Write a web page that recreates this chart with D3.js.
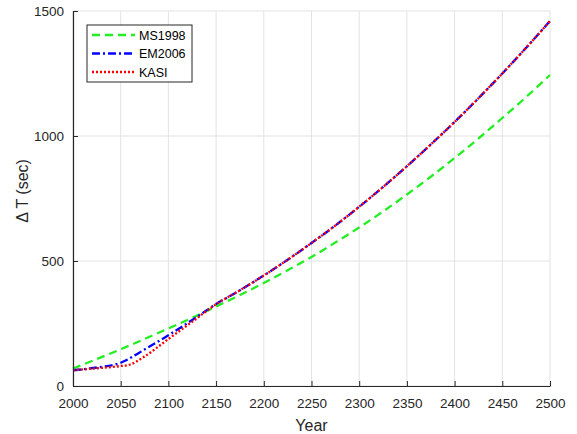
<!DOCTYPE html>
<html>
<head>
<meta charset="utf-8">
<script src="https://cdn.jsdelivr.net/npm/d3@7"></script>
<style>
  body { margin: 0; background: #fff; }
  svg { display: block; font-family: "Liberation Sans", Arial, sans-serif; }
</style>
</head>
<body>
<div id="wrapper"></div>
<script>
// values
const years = [2000, 2025, 2050, 2075, 2100, 2125, 2150, 2175, 2200, 2225, 2250,
               2275, 2300, 2325, 2350, 2375, 2400, 2425, 2450, 2475, 2500];
const ms1998 = [70, 108, 147, 188, 230, 273, 318, 364, 412, 463, 516,
                574, 634, 698, 766, 837, 912, 990, 1072, 1156, 1244];
const em2006 = [63, 74, 93, 146, 203, 264, 328, 383, 442, 505, 572,
                642, 717, 796, 879, 966, 1056, 1151, 1250, 1353, 1460];
const kasiYears = [2000, 2025, 2050, 2060, 2075, 2100, 2125, 2150, 2175, 2200, 2225, 2250,
                   2275, 2300, 2325, 2350, 2375, 2400, 2425, 2450, 2475, 2500];
const kasi = [63, 71, 80, 86, 118, 188, 257, 327, 383, 442, 505, 572,
              642, 717, 796, 879, 966, 1056, 1151, 1250, 1353, 1460];
const xTicks = [2000, 2050, 2100, 2150, 2200, 2250, 2300, 2350, 2400, 2450, 2500];
const yTicks = [0, 500, 1000, 1500];

const series = [
    {name: "MS1998", xs: years, ys: ms1998, color: "#22ee22", dash: "8,5"},
    {name: "EM2006", xs: years, ys: em2006, color: "#0000ff", dash: "8,3,2,3"},
    {name: "KASI", xs: kasiYears, ys: kasi, color: "#ff0000", dash: "2,2"}
];

const dimension = {
    width: 577,
    height: 434,
    margin: {top: 11, left: 73, bottom: 48, right: 27}
};
dimension.boundedWidth = dimension.width - dimension.margin.left - dimension.margin.right;
dimension.boundedHeight = dimension.height - dimension.margin.top - dimension.margin.bottom;

const svg = d3.select("#wrapper").append("svg")
    .attr("width", dimension.width)
    .attr("height", dimension.height);

const bounded = svg.append("g")
    .attr("transform", `translate(${dimension.margin.left},${dimension.margin.top})`);

const xScaler = d3.scaleLinear().domain([2000, 2500]).range([0, dimension.boundedWidth]);
const yScaler = d3.scaleLinear().domain([0, 1500]).range([dimension.boundedHeight, 0]);

// grid
bounded.append("g").selectAll("line").data(xTicks).join("line")
    .attr("x1", d => xScaler(d)).attr("x2", d => xScaler(d))
    .attr("y1", 0).attr("y2", dimension.boundedHeight)
    .attr("stroke", "#e3e3e3").attr("stroke-width", 1);
bounded.append("g").selectAll("line").data(yTicks).join("line")
    .attr("x1", 0).attr("x2", dimension.boundedWidth)
    .attr("y1", d => yScaler(d)).attr("y2", d => yScaler(d))
    .attr("stroke", "#e3e3e3").attr("stroke-width", 1);

// lines
series.forEach(s => {
    const pts = s.xs.map((x, i) => [x, s.ys[i]]);
    const lineGenerator = d3.line()
        .x(d => xScaler(d[0]))
        .y(d => yScaler(d[1]))
        .curve(d3.curveMonotoneX);
    bounded.append("path")
        .attr("d", lineGenerator(pts))
        .attr("fill", "none")
        .attr("stroke", s.color)
        .attr("stroke-width", 2.3)
        .attr("stroke-dasharray", s.dash);
});

// axes
const xAxis = d3.axisBottom(xScaler).tickValues(xTicks).tickFormat(d3.format("d"))
    .tickSizeInner(-5).tickSizeOuter(0).tickPadding(12);
const yAxis = d3.axisLeft(yScaler).tickValues(yTicks).tickFormat(d3.format("d"))
    .tickSizeInner(-5).tickSizeOuter(0).tickPadding(9);

const gx = bounded.append("g")
    .attr("transform", `translate(0,${dimension.boundedHeight})`)
    .call(xAxis);
const gy = bounded.append("g").call(yAxis);

[gx, gy].forEach(g => {
    g.select(".domain").attr("stroke", "#262626").attr("stroke-width", 1.2);
    g.selectAll(".tick line").attr("stroke", "#262626");
    g.selectAll(".tick text").attr("fill", "#262626")
        .style("font-size", "13.5px")
        .style("font-family", "'Liberation Sans', Arial, sans-serif");
});

svg.append("text")
    .attr("x", dimension.margin.left + dimension.boundedWidth / 2)
    .attr("y", 431)
    .attr("text-anchor", "middle")
    .attr("fill", "#262626")
    .style("font-size", "16px")
    .text("Year");

svg.append("text")
    .attr("transform", "translate(28,191) rotate(-90)")
    .attr("text-anchor", "middle")
    .attr("fill", "#262626")
    .style("font-size", "16px")
    .text("Δ T (sec)");

// legend
const legend = svg.append("g").attr("transform", "translate(87,25)");
legend.append("rect")
    .attr("width", 105).attr("height", 57)
    .attr("fill", "#fff").attr("stroke", "#262626").attr("stroke-width", 1);
series.forEach((s, i) => {
    const y = 10 + i * 18.5;
    legend.append("line")
        .attr("x1", 5).attr("x2", 48).attr("y1", y).attr("y2", y)
        .attr("stroke", s.color).attr("stroke-width", 2.3)
        .attr("stroke-dasharray", s.dash);
    legend.append("text")
        .attr("x", 52).attr("y", y + 4.5)
        .attr("fill", "#000")
        .style("font-size", "12.5px")
        .text(s.name);
});
</script>
</body>
</html>
